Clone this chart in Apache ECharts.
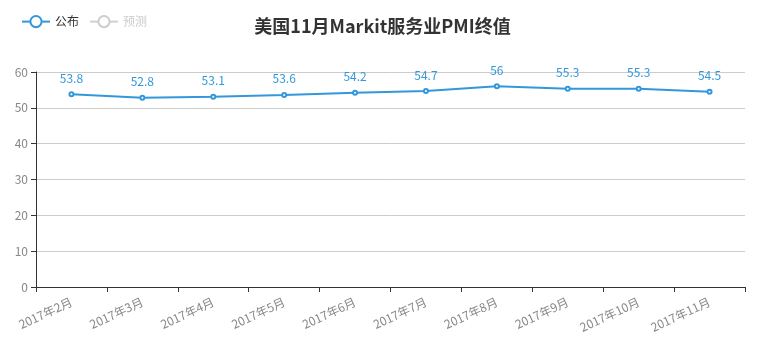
<!DOCTYPE html>
<html>
<head>
<meta charset="utf-8">
<script src="https://cdn.jsdelivr.net/npm/echarts@6/dist/echarts.min.js"></script>
<style>
  html, body { margin: 0; padding: 0; background: #fff; }
  #main { width: 765px; height: 355px; }
</style>
</head>
<body>
<div id="main"></div>
<script>
// categories and values
var months = ['2017年2月', '2017年3月', '2017年4月', '2017年5月', '2017年6月',
  '2017年7月', '2017年8月', '2017年9月', '2017年10月', '2017年11月'];
var published = [53.8, 52.8, 53.1, 53.6, 54.2, 54.7, 56, 55.3, 55.3, 54.5];
var forecast = [];

var font = '"Microsoft YaHei", "Noto Sans CJK SC", sans-serif';
var chart = echarts.init(document.getElementById('main'));

chart.setOption({
  animation: false,
  textStyle: { fontFamily: font },
  title: {
    text: '美国11月Markit服务业PMI终值',
    left: 'center',
    top: 12,
    textStyle: { fontSize: 18, fontWeight: 'bold', color: '#333', fontFamily: font }
  },
  legend: {
    left: 16,
    top: 10,
    itemWidth: 28,
    itemHeight: 14,
    itemGap: 10,
    textStyle: { fontSize: 12, color: '#333' },
    inactiveColor: '#ccc',
    selected: { '预测': false },
    data: ['公布', '预测']
  },
  grid: { left: 36, right: 20, top: 72, bottom: 68 },
  xAxis: {
    type: 'category',
    data: months,
    axisLine: { lineStyle: { color: '#333' } },
    axisTick: { show: true, length: 5, lineStyle: { color: '#333' } },
    axisLabel: { rotate: 25, color: '#888', fontSize: 12, interval: 0, margin: 14 }
  },
  yAxis: {
    type: 'value',
    min: 0,
    max: 60,
    interval: 10,
    axisLine: { show: true, lineStyle: { color: '#333' } },
    axisTick: { show: true, length: 5, lineStyle: { color: '#333' } },
    axisLabel: { color: '#888', fontSize: 12 },
    splitLine: { lineStyle: { color: '#ccc' } }
  },
  series: [
    {
      name: '公布',
      type: 'line',
      data: published,
      symbol: 'emptyCircle',
      symbolSize: 4,
      itemStyle: { color: '#3398DB' },
      lineStyle: { width: 2, color: '#3398DB' },
      label: { show: true, position: 'top', color: '#3398DB', fontSize: 12, distance: 7 }
    },
    {
      name: '预测',
      type: 'line',
      data: forecast,
      symbol: 'emptyCircle',
      itemStyle: { color: '#ccc' }
    }
  ]
});
</script>
</body>
</html>
